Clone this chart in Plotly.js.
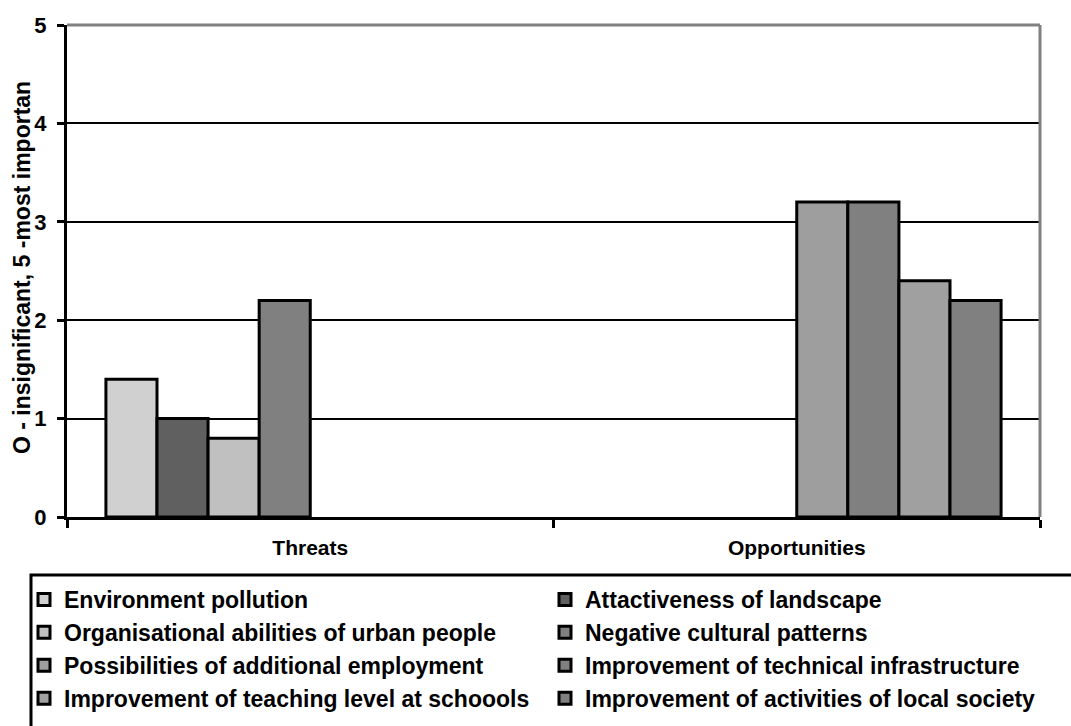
<!DOCTYPE html>
<html>
<head>
<meta charset="utf-8">
<script src="https://cdn.plot.ly/plotly-3.0.1.min.js"></script>
<style>
html,body{margin:0;padding:0;background:#fff;}
#chart{width:1071px;height:726px;}
</style>
</head>
<body>
<div id="chart"></div>
<script>
const categories = ["Threats", "Opportunities"];
const seriesNames = [
  "Environment pollution",
  "Attactiveness of landscape",
  "Organisational abilities of urban people",
  "Negative cultural patterns",
  "Possibilities of additional employment",
  "Improvement of technical infrastructure",
  "Improvement of teaching level at schoools",
  "Improvement of activities of local society"
];
const seriesValues = [
  [1.4, null],
  [1.0, null],
  [0.8, null],
  [2.2, null],
  [null, 3.2],
  [null, 3.2],
  [null, 2.4],
  [null, 2.2]
];
const seriesColors = ["#d0d0d0", "#606060", "#c0c0c0", "#808080", "#9e9e9e", "#808080", "#a0a0a0", "#808080"];
const yTickVals = [0, 1, 2, 3, 4, 5];
const yTitle = "O - insignificant, 5 -most importan";

const FONT = "Arial, 'Liberation Sans', sans-serif";

const traces = seriesNames.map((name, i) => ({
  type: "bar",
  name: name,
  x: categories,
  y: seriesValues[i],
  marker: {color: seriesColors[i], line: {color: "#000", width: 3}},
  hoverinfo: "skip"
}));

// pixel geometry helpers (plot area 67..1040 x 25..517)
const W = 1071, H = 726, L = 67, R = 31, T = 25, B = 209;
const pw = W - L - R, ph = H - T - B;
const px = v => (v - L) / pw;
const py = v => (H - B - v) / ph;

const layout = {
  width: W,
  height: H,
  margin: {l: L, r: R, t: T, b: B, autoexpand: false},
  paper_bgcolor: "#fff",
  plot_bgcolor: "#fff",
  barmode: "group",
  bargap: 0.16,
  bargroupgap: 0,
  showlegend: true,
  font: {family: FONT, color: "#000", size: 20, weight: "bold"},
  xaxis: {
    type: "category",
    showline: true, linecolor: "#000", linewidth: 3,
    ticks: "outside", tickson: "boundaries", ticklen: 8, tickwidth: 3, tickcolor: "#000",
    tickfont: {family: FONT, size: 21, color: "#000", weight: "bold"},
    ticklabelstandoff: 10,
    showgrid: false, zeroline: false, fixedrange: true
  },
  yaxis: {
    range: [0, 5],
    tickvals: yTickVals,
    showline: true, linecolor: "#000", linewidth: 3,
    ticks: "outside", ticklen: 7, tickwidth: 3, tickcolor: "#000",
    tickfont: {family: FONT, size: 22, color: "#000", weight: "bold"},
    ticklabelstandoff: 6,
    showgrid: true, gridcolor: "#000", gridwidth: 2,
    zeroline: false, fixedrange: true
  },
  annotations: [
    {text: yTitle, xref: "paper", yref: "paper", x: px(22), y: py(268), xanchor: "center", yanchor: "middle",
     textangle: -90, showarrow: false, font: {family: FONT, size: 23, color: "#000", weight: "bold"}}
  ],
  legend: {
    orientation: "h",
    x: px(24), xanchor: "left",
    y: py(578), yanchor: "top",
    entrywidth: 476, entrywidthmode: "pixels",
    bgcolor: "rgba(0,0,0,0)", borderwidth: 0,
    font: {family: FONT, size: 23, color: "#000", weight: "bold"},
    traceorder: "normal"
  },
  shapes: [
    {type: "line", xref: "paper", yref: "paper", x0: 0, x1: 1, y0: 1, y1: 1, line: {color: "#808080", width: 3}, layer: "above"},
    {type: "line", xref: "paper", yref: "paper", x0: 1, x1: 1, y0: 0, y1: 1, line: {color: "#808080", width: 3}, layer: "above"},
    {type: "rect", xref: "paper", yref: "paper", x0: px(31), x1: px(1090), y0: py(575), y1: py(740), line: {color: "#000", width: 3}, fillcolor: "rgba(0,0,0,0)", layer: "above"}
  ]
};

Plotly.newPlot("chart", traces, layout, {displayModeBar: false, staticPlot: true});
</script>
</body>
</html>
